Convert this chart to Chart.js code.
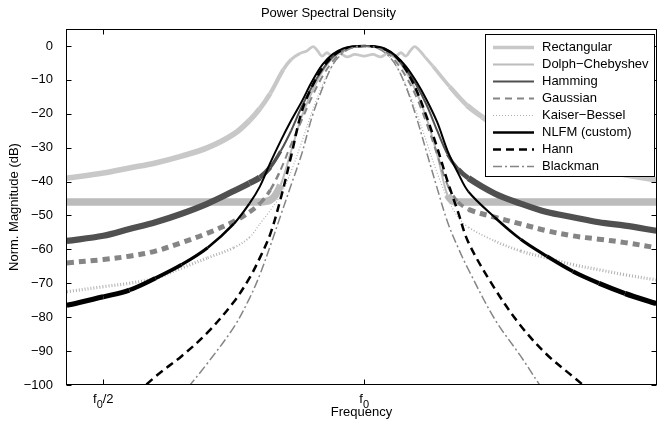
<!DOCTYPE html>
<html><head><meta charset="utf-8">
<script src="https://cdn.jsdelivr.net/npm/chart.js@4.4.0/dist/chart.umd.min.js"></script>
<style>html,body{margin:0;padding:0;background:#fff;}</style>
</head><body>
<canvas id="c" width="658" height="426"></canvas>
<script>
// ---- data (frequency in units of f0, magnitude in dB) ----
const freq = [0.43,0.5,0.55,0.6,0.65,0.7,0.75,0.78,0.8,0.82,0.84,0.86,0.88,0.9,0.92,0.94,0.96,0.98,1.0,1.02,1.04,1.06,1.08,1.1,1.12,1.14,1.16,1.18,1.2,1.25,1.3,1.35,1.4,1.45,1.5,1.56];
const rectFreq = [0.43,0.5,0.55,0.6,0.65,0.7,0.75,0.78,0.8,0.82,0.845,0.86,0.877,0.89,0.902,0.911,0.919,0.929,0.94,0.953,0.967,0.982,1.0,1.017,1.032,1.045,1.059,1.07,1.08,1.088,1.097,1.107,1.118,1.132,1.164,1.197,1.227,1.26,1.3,1.35,1.4,1.45,1.5,1.56];
const rectangular = [-39,-37.5,-36,-34.5,-32.5,-30,-26,-22,-18.5,-14,-7,-4,-2.2,-1.5,-0.2,-1.5,-3,-2,-3.2,-2.2,-3.2,-2.5,-3,-2.5,-3.2,-2.2,-3.2,-2,-3,-1.5,-0.2,-1.5,-3.5,-6,-12,-17.5,-21,-24.5,-28,-32,-34.5,-36.5,-38,-39.5];
const dolphChebyshev = [-46,-46,-46,-46,-46,-46,-46,-46,-46,-45.5,-41,-31,-21,-13.5,-7.5,-3.5,-1.2,-0.2,0,-0.2,-1.2,-3.5,-7.5,-13.5,-21.5,-32,-44,-46,-46,-46,-46,-46,-46,-46,-46,-46];
const hamming = [-57.5,-56,-54,-52,-49.5,-46.5,-42.8,-40.5,-38.8,-35.8,-31,-25,-18,-12,-7,-3.2,-1.1,-0.2,0,-0.2,-1.1,-3.2,-7,-11.5,-17.5,-25,-32,-36.3,-39,-43.5,-46.5,-49,-50.5,-52,-53,-54.5];
const gaussian = [-64,-63,-62,-60.5,-58,-55.2,-51.8,-49,-46.5,-42.5,-36.5,-29,-22,-15,-9,-4.5,-1.5,-0.3,0,-0.3,-1.5,-4.5,-9,-15,-23,-32,-41,-46,-48.2,-50.5,-52.5,-54.5,-56,-57,-58,-59.5];
const kaiserBessel = [-72.5,-71,-70,-68.5,-65.5,-62.5,-59.5,-56.5,-52.5,-48.5,-44,-37,-28.5,-19.5,-11.5,-5.5,-2,-0.4,0,-0.4,-2,-5.5,-11.5,-19.5,-28.5,-37.5,-45,-50.5,-53.5,-57.5,-60.5,-62.5,-64.5,-66,-67.5,-69];
const nlfm = [-76.5,-74,-72,-68.5,-64.5,-59.5,-52.5,-46.5,-41.5,-34.5,-28,-22,-16.5,-10.5,-5.5,-2.4,-0.7,-0.1,0,-0.1,-0.8,-2.8,-6,-10.5,-16,-22.5,-31,-37.5,-43,-50.5,-57,-62,-66.5,-70,-73,-76];
const hann = [-130,-116,-105,-97.5,-91.5,-84.5,-75.5,-68.5,-62.5,-55.5,-45,-32.5,-19.5,-12,-6.5,-3,-1,-0.2,0,-0.2,-1,-3,-7,-13,-21,-30,-40,-49,-58,-71.5,-82.5,-91,-97.5,-104,-112,-125];
const blackman = [-135,-128,-120,-112,-103,-93.5,-83,-74.5,-67.5,-59,-50,-41,-32,-21,-12.5,-5.5,-2,-0.4,0,-0.4,-2,-5.5,-12,-21,-31.5,-42,-52,-59.5,-66,-80.5,-91.5,-103,-113,-122,-130,-138];
const seriesNames = ['Rectangular','Dolph\u2212Chebyshev','Hamming','Gaussian','Kaiser\u2212Bessel','NLFM (custom)','Hann','Blackman'];
const yTicks = [0,-10,-20,-30,-40,-50,-60,-70,-80,-90,-100];
const yTickLabels = ['0','\u221210','\u221220','\u221230','\u221240','\u221250','\u221260','\u221270','\u221280','\u221290','\u2212100'];
const xTickValues = [0.5, 1];
const xTickLabels = ['f\u2080/2', 'f\u2080'];
const chartTitle = 'Power Spectral Density';
const xTitle = 'Frequency';
const yTitle = 'Norm. Magnitude (dB)';

// ---- styling ----
const FONT = "'Liberation Sans', Arial, Helvetica, sans-serif";
const FS = 13;
function pts(xs, ys) { return xs.map((x, i) => ({x: x, y: ys[i]})); }
function dist(ctx) { return Math.abs((ctx.p0.parsed.x + ctx.p1.parsed.x) / 2 - 1); }
function ramp(d, a, b) { return Math.max(0, Math.min(1, (d - a) / (b - a))); }

const styleList = [
  {color:'#c8c8c8', width:3, dash:[], legendWidth:3.5, mono:false,
   seg: d => 2.8 + 2.8 * ramp(d, 0.12, 0.22)},
  {color:'#bcbcbc', width:2, dash:[], legendWidth:2, mono:true,
   seg: d => (d > 0.165 ? 7.5 : 2)},
  {color:'#505050', width:2, dash:[], legendWidth:2, mono:false,
   seg: d => 2 + 4.2 * ramp(d, 0.15, 0.21)},
  {color:'#858585', width:2, dash:[7,5], legendWidth:2, mono:false,
   seg: d => 2 + 3 * ramp(d, 0.16, 0.22)},
  {color:'#b0b0b0', width:1.2, dash:[1,2], legendWidth:1.2, mono:false,
   seg: d => 1.2 + 2 * ramp(d, 0.2, 0.3)},
  {color:'#000000', width:2, dash:[], legendWidth:2.5, mono:false,
   seg: d => 2 + 3.2 * ramp(d, 0.22, 0.5)},
  {color:'#000000', width:2.5, dash:[8,5], legendWidth:2.5, mono:false, seg: null},
  {color:'#858585', width:1.5, dash:[9,3,2,3], legendWidth:1.5, mono:false, seg: null}
];
const seriesData = [pts(rectFreq, rectangular), pts(freq, dolphChebyshev), pts(freq, hamming), pts(freq, gaussian), pts(freq, kaiserBessel), pts(freq, nlfm), pts(freq, hann), pts(freq, blackman)];

const datasets = seriesData.map((data, i) => {
  const s = styleList[i];
  const ds = {
    label: seriesNames[i], data: data, borderColor: s.color, borderWidth: s.width,
    borderDash: s.dash, pointRadius: 0, fill: false,
    cubicInterpolationMode: s.mono ? 'monotone' : 'default', tension: s.mono ? 0 : 0.35,
    order: 8 - i, clip: 0, borderCapStyle: 'butt', borderJoinStyle: 'round'
  };
  if (s.seg) ds.segment = { borderWidth: ctx => s.seg(dist(ctx)) };
  return ds;
});

const framePlugin = {
  id: 'matlabFrame',
  afterDraw(chart) {
    const ctx = chart.ctx;
    const a = chart.chartArea;
    const xs = chart.scales.x, ys = chart.scales.y;
    const L = Math.round(a.left) + 0.5, R = Math.round(a.right) - 0.5;
    const T = Math.round(a.top) + 0.5, B = Math.round(a.bottom) - 0.5;
    ctx.save();
    ctx.strokeStyle = '#000'; ctx.lineWidth = 1; ctx.setLineDash([]);
    ctx.strokeRect(L, T, R - L, B - T);
    ctx.beginPath();
    yTicks.forEach(v => {
      const p = Math.round(ys.getPixelForValue(v)) + 0.5;
      ctx.moveTo(L, p); ctx.lineTo(L + 5, p);
      ctx.moveTo(R, p); ctx.lineTo(R - 5, p);
    });
    xTickValues.forEach(v => {
      const p = Math.round(xs.getPixelForValue(v)) + 0.5;
      ctx.moveTo(p, B); ctx.lineTo(p, B - 5);
      ctx.moveTo(p, T); ctx.lineTo(p, T + 5);
    });
    ctx.stroke();

    // x tick labels with lowered subscript
    ctx.fillStyle = '#000';
    ctx.textBaseline = 'alphabetic';
    xTickValues.forEach((v, i) => {
      const lab = xTickLabels[i];
      const k = lab.indexOf('\u2080');
      const pre = lab.slice(0, k), sub = '0', post = lab.slice(k + 1);
      ctx.font = FS + 'px ' + FONT;
      const w1 = ctx.measureText(pre).width, w3 = ctx.measureText(post).width;
      ctx.font = (FS - 2) + 'px ' + FONT;
      const w2 = ctx.measureText(sub).width;
      const p = xs.getPixelForValue(v);
      let x = p - (w1 + w2 + w3) / 2;
      const base = 403;
      ctx.textAlign = 'left';
      ctx.font = FS + 'px ' + FONT; ctx.fillText(pre, x, base); x += w1;
      ctx.font = (FS - 2) + 'px ' + FONT; ctx.fillText(sub, x, base + 5); x += w2;
      ctx.font = FS + 'px ' + FONT; ctx.fillText(post, x, base);
    });

    // legend box
    const bx = 485.5, by = 34.5, bw = 169, bh = 142;
    ctx.fillStyle = '#fff';
    ctx.fillRect(bx, by, bw, bh);
    ctx.strokeStyle = '#000'; ctx.lineWidth = 1;
    ctx.strokeRect(bx, by, bw, bh);
    ctx.font = FS + 'px ' + FONT;
    ctx.textBaseline = 'middle'; ctx.textAlign = 'left';
    seriesNames.forEach((name, i) => {
      const s = styleList[i];
      const yy = 47.5 + 17 * i;
      ctx.beginPath();
      ctx.strokeStyle = s.color; ctx.lineWidth = s.legendWidth; ctx.setLineDash(s.dash);
      ctx.moveTo(493, yy); ctx.lineTo(534, yy); ctx.stroke();
      ctx.setLineDash([]);
      ctx.fillStyle = '#000';
      ctx.fillText(name, 542, yy);
    });
    ctx.restore();
  }
};

new Chart(document.getElementById('c'), {
  type: 'line',
  data: { datasets: datasets },
  options: {
    responsive: false, animation: false, devicePixelRatio: 1,
    layout: { padding: { left: 0, right: 1, top: 0, bottom: 0 } },
    plugins: {
      legend: { display: false }, tooltip: { enabled: false },
      title: { display: true, text: chartTitle, color: '#000',
               font: { family: FONT, size: FS, weight: 'normal' }, padding: { top: 6, bottom: 7.4 } }
    },
    scales: {
      x: {
        type: 'linear', min: 0.4285, max: 1.5613,
        grid: { display: false }, border: { display: false },
        ticks: { display: false },
        afterBuildTicks: s => { s.ticks = xTickValues.map(v => ({ value: v })); },
        title: { display: true, text: xTitle, color: '#000',
                 font: { family: FONT, size: FS }, padding: { top: 0, bottom: 6 } },
        afterFit: s => { s.height = 41; }
      },
      y: {
        type: 'linear', min: -100, max: 5,
        grid: { display: false }, border: { display: false },
        afterBuildTicks: s => { s.ticks = yTicks.map(v => ({ value: v })); },
        ticks: { color: '#000', font: { family: FONT, size: FS }, padding: 5,
                 callback: v => yTickLabels[yTicks.indexOf(v)] },
        title: { display: true, text: yTitle, color: '#000',
                 font: { family: FONT, size: FS }, padding: { top: 7, bottom: 0 } },
        afterFit: s => { s.width = 66; }
      }
    }
  },
  plugins: [framePlugin]
});
</script>
</body></html>
